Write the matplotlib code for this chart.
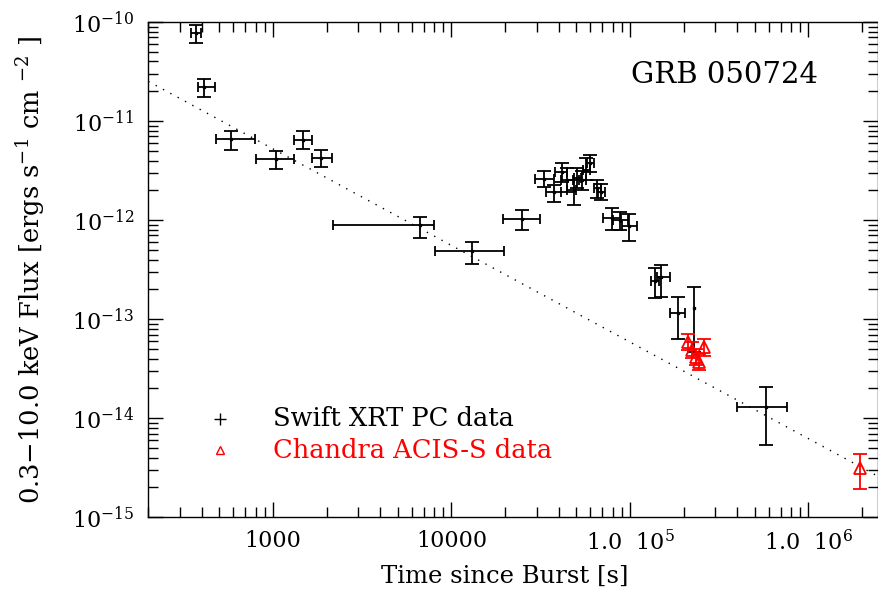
import numpy as np
import matplotlib
matplotlib.use("Agg")
import matplotlib.pyplot as plt
from matplotlib.ticker import FixedLocator, LogLocator, NullFormatter

plt.rcParams["font.family"] = ["DejaVu Serif"]
plt.rcParams["mathtext.fontset"] = "dejavuserif"

# Swift XRT PC light curve: time, time range, flux, flux range
xrt_t = [370, 409, 583, 1036, 1464, 1856, 6699, 13092, 24890,
         3.30e4, 3.76e4, 4.17e4, 4.45e4, 4.83e4, 5.06e4, 5.40e4, 5.69e4,
         6.00e4, 6.57e4, 6.91e4, 7.97e4, 8.85e4, 9.94e4,
         1.38e5, 1.49e5, 1.85e5, 2.28e5, 5.78e5]
xrt_t_lo = [347, 378, 480, 806, 1308, 1644, 2161, 8035, 19500,
            2.94e4, 3.39e4, 3.81e4, 4.13e4, 4.42e4, 4.83e4, 5.15e4, 5.45e4,
            5.75e4, 6.25e4, 6.60e4, 7.10e4, 8.00e4, 9.08e4,
            1.31e5, 1.41e5, 1.67e5, 2.28e5, 3.99e5]
xrt_t_hi = [395, 474, 789, 1308, 1652, 2133, 7962, 19570, 31220,
            3.76e4, 4.13e4, 4.43e4, 4.82e4, 5.00e4, 5.35e4, 5.70e4, 6.00e4,
            6.30e4, 6.90e4, 7.25e4, 8.90e4, 9.70e4, 1.09e5,
            1.45e5, 1.67e5, 2.03e5, 2.28e5, 7.60e5]
xrt_f = [7.69e-11, 2.19e-11, 6.55e-12, 4.17e-12, 6.44e-12, 4.27e-12, 8.83e-13,
         4.88e-13, 1.02e-12,
         2.60e-12, 1.92e-12, 3.06e-12, 2.54e-12, 2.01e-12, 2.66e-12, 2.54e-12,
         3.21e-12, 3.77e-12, 2.11e-12, 1.92e-12, 1.05e-12, 1.00e-12, 8.73e-13,
         2.44e-13, 2.68e-13, 1.16e-13, 1.30e-13, 1.30e-14]
xrt_f_lo = [6.18e-11, 1.75e-11, 5.10e-12, 3.28e-12, 5.22e-12, 3.41e-12, 6.60e-13,
            3.58e-13, 7.98e-13,
            2.16e-12, 1.52e-12, 2.43e-12, 1.92e-12, 1.42e-12, 2.11e-12, 2.00e-12,
            2.54e-12, 3.06e-12, 1.67e-12, 1.60e-12, 7.94e-13, 7.94e-13, 6.15e-13,
            1.63e-13, 1.69e-13, 6.27e-14, 4.66e-14, 5.43e-15]
xrt_f_hi = [9.30e-11, 2.64e-11, 7.94e-12, 5.02e-12, 8.00e-12, 5.10e-12, 1.08e-12,
            6.05e-13, 1.26e-12,
            3.13e-12, 2.26e-12, 3.77e-12, 3.36e-12, 2.54e-12, 3.36e-12, 3.10e-12,
            4.24e-12, 4.54e-12, 2.54e-12, 2.31e-12, 1.32e-12, 1.21e-12, 1.15e-12,
            3.27e-13, 3.52e-13, 1.69e-13, 2.11e-13, 2.07e-14]

# Chandra ACIS-S points
cxo_t = [2.11e5, 2.22e5, 2.33e5, 2.43e5, 2.59e5, 1.95e6]
cxo_f = [5.89e-14, 4.89e-14, 4.15e-14, 3.70e-14, 5.24e-14, 3.13e-15]
cxo_f_lo = [4.89e-14, 4.05e-14, 3.45e-14, 3.10e-14, 4.30e-14, 1.93e-15]
cxo_f_hi = [7.08e-14, 5.90e-14, 5.00e-14, 4.45e-14, 6.30e-14, 4.36e-15]

# Power-law decay model F = norm * t^-alpha
pl_norm = 4.41e-9
pl_alpha = 0.975

x_ticks = [1e3, 1e4, 1e5, 1e6]
x_ticklabels = ["1000", "10000", r"1.0  10$^5$", r"1.0  10$^6$"]
y_ticks = [1e-15, 1e-14, 1e-13, 1e-12, 1e-11, 1e-10]
y_ticklabels = [r"10$^{-15}$", r"10$^{-14}$", r"10$^{-13}$", r"10$^{-12}$",
                r"10$^{-11}$", r"10$^{-10}$"]

xmin, xmax = 200, 2.45e6
ymin, ymax = 1e-15, 1e-10

fig = plt.figure(figsize=(8.79, 5.89), dpi=100)
ax = fig.add_axes([0.1687, 0.1217, 0.83, 0.8409])
ax.set_xscale("log")
ax.set_yscale("log")
ax.set_xlim(xmin, xmax)
ax.set_ylim(ymin, ymax)

lw = 1.3
t = np.array(xrt_t)
f = np.array(xrt_f)
yerr = [f - np.array(xrt_f_lo), np.array(xrt_f_hi) - f]
xerr = [t - np.array(xrt_t_lo), np.array(xrt_t_hi) - t]
has_xerr = (xerr[0] > 0) | (xerr[1] > 0)
ax.errorbar(t, f, yerr=yerr, fmt="none", ecolor="black", elinewidth=lw,
            capsize=5, capthick=lw, zorder=3)
ax.errorbar(t[has_xerr], f[has_xerr],
            xerr=[xerr[0][has_xerr], xerr[1][has_xerr]], fmt="none",
            ecolor="black", elinewidth=lw, capsize=3.3, capthick=lw, zorder=3)
ax.plot(t, f, ls="none", marker="s", ms=1.6, color="black", zorder=4)

ct = np.array(cxo_t)
cf = np.array(cxo_f)
cyerr = [cf - np.array(cxo_f_lo), np.array(cxo_f_hi) - cf]
ax.errorbar(ct, cf, yerr=cyerr, fmt="none", ecolor="red", elinewidth=lw,
            capsize=5, capthick=lw, zorder=5)
ax.plot(ct, cf, ls="none", marker="^", ms=9, mfc="none", mec="red",
        mew=lw, zorder=6)

tt = np.logspace(np.log10(xmin), np.log10(xmax), 200)
ax.plot(tt, pl_norm * tt ** (-pl_alpha), color="black", lw=1.0,
        ls=(0, (1, 5)), zorder=2)

ax.xaxis.set_major_locator(FixedLocator(x_ticks))
ax.set_xticklabels(x_ticklabels)
ax.xaxis.set_minor_locator(LogLocator(base=10, subs=np.arange(2, 10)))
ax.xaxis.set_minor_formatter(NullFormatter())
ax.yaxis.set_major_locator(FixedLocator(y_ticks))
ax.set_yticklabels(y_ticklabels)
ax.yaxis.set_minor_locator(LogLocator(base=10, subs=np.arange(2, 10)))
ax.yaxis.set_minor_formatter(NullFormatter())

ax.tick_params(which="both", direction="in", top=True, right=True,
               width=1.0, colors="black", labelsize=16)
ax.tick_params(which="major", length=11)
ax.tick_params(which="minor", length=7)
ax.tick_params(axis="x", which="major", pad=9)
ax.tick_params(axis="y", which="major", pad=10)
for s in ax.spines.values():
    s.set_linewidth(1.0)

ax.set_xlabel("Time since Burst [s]", fontsize=17.5)
ax.xaxis.set_label_coords(0.489, -0.096)
ax.set_ylabel(r"0.3$-$10.0 keV Flux [ergs s$^{-1}$ cm $^{-2}$ ]",
              fontsize=18.5)
ax.yaxis.set_label_coords(-0.139, 0.5)

ax.text(0.79, 0.893, "GRB 050724", transform=ax.transAxes, fontsize=21,
        ha="center", va="center")

# Legend
ax.plot([0.0983], [0.1995], transform=ax.transAxes, marker="+", ms=9,
        mew=1.0, color="black", clip_on=False)
ax.text(0.171, 0.1995, "Swift XRT PC data", transform=ax.transAxes,
        fontsize=18.5, va="center", ha="left", color="black")
ax.plot([0.0983], [0.1359], transform=ax.transAxes, marker="^", ms=6,
        mfc="none", mec="red", mew=1.0, clip_on=False)
ax.text(0.171, 0.1359, "Chandra ACIS-S data", transform=ax.transAxes,
        fontsize=18.5, va="center", ha="left", color="red")

fig.savefig("out.png", dpi=100)
